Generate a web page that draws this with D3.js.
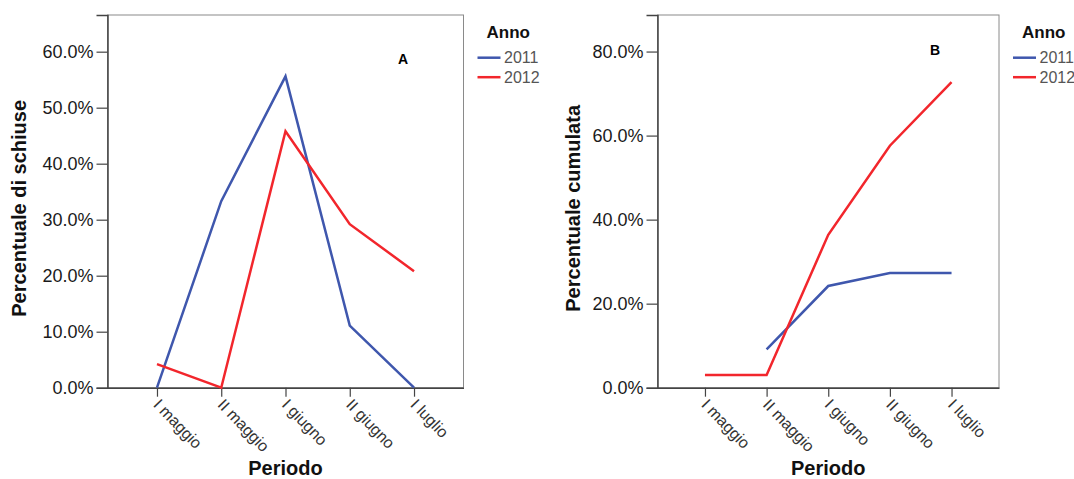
<!DOCTYPE html>
<html>
<head>
<meta charset="utf-8">
<script src="https://cdn.jsdelivr.net/npm/d3@7"></script>
<style>
  body { margin: 0; background: #fff; }
  text { font-family: Arial, "Liberation Sans", sans-serif; }
</style>
</head>
<body>
<div id="chart"></div>
<script>
const periods = ["I maggio", "II maggio", "I giugno", "II giugno", "I luglio"];
const years = ["2011", "2012"];
const colors = ["#3f57ad", "#f2262c"];

// panel A: percentuale di schiuse
const schiuse2011 = [0, 33.3, 55.6, 11.1, 0];
const schiuse2012 = [4.2, 0, 45.8, 29.2, 20.8];
const ticksA = [0, 10, 20, 30, 40, 50, 60];

// panel B: percentuale cumulata (2011 has no value in I maggio)
const cumul2011 = [null, 9.1, 24.2, 27.3, 27.3];
const cumul2012 = [3.0, 3.0, 36.4, 57.6, 72.7];
const ticksB = [0, 20, 40, 60, 80];

let width = 1074, height = 479;
let svg = d3.select("#chart").append("svg")
  .attr("width", width).attr("height", height);

const panels = [
  { x0: 107.5, x1: 463.5, yMax: 66.55, ticks: ticksA, series: [schiuse2011, schiuse2012],
    ytitle: "Percentuale di schiuse", titleX: 19, letter: "A", lx: 403, ly: 59 },
  { x0: 657.5, x1: 999, yMax: 88.7, ticks: ticksB, series: [cumul2011, cumul2012],
    ytitle: "Percentuale cumulata", titleX: 573, letter: "B", lx: 935, ly: 50 }
];
const plotTop = 15, plotBottom = 387.7;

panels.forEach(p => {
  let g = svg.append("g");
  let x = d3.scalePoint().domain(periods).range([p.x0, p.x1]).padding(0.77);
  let y = d3.scaleLinear().domain([0, p.yMax]).range([plotBottom, plotTop]);

  // frame
  g.append("rect")
    .attr("x", p.x0).attr("y", plotTop)
    .attr("width", p.x1 - p.x0).attr("height", plotBottom - plotTop)
    .attr("fill", "none").attr("stroke", "#8a8a8a").attr("stroke-width", 1);

  // y axis
  let yAxis = g.append("g").attr("transform", `translate(${p.x0},0)`)
    .call(d3.axisLeft(y).tickValues(p.ticks).tickSize(11).tickPadding(3)
      .tickFormat(d => d.toFixed(1) + "%"));
  yAxis.select(".domain").attr("stroke", "#444").attr("stroke-width", 1.5);
  yAxis.selectAll(".tick line").attr("stroke", "#444").attr("stroke-width", 1.2);
  yAxis.selectAll(".tick text").attr("font-size", 18).attr("fill", "#1a1a1a")
    .attr("font-family", "Arial, 'Liberation Sans', sans-serif");

  // x axis
  let xAxis = g.append("g").attr("transform", `translate(0,${plotBottom})`)
    .call(d3.axisBottom(x).tickSize(9).tickSizeOuter(0));
  xAxis.select(".domain").attr("stroke", "#444").attr("stroke-width", 1.5);
  xAxis.selectAll(".tick line").attr("stroke", "#444").attr("stroke-width", 1.2);
  xAxis.selectAll(".tick text")
    .attr("font-size", 16).attr("fill", "#333")
    .attr("font-family", "Arial, 'Liberation Sans', sans-serif")
    .attr("text-anchor", "start")
    .attr("x", 0).attr("y", 0).attr("dy", "0.35em")
    .attr("transform", "translate(-1,14) rotate(46)");

  // lines
  p.series.forEach((vals, i) => {
    let line = d3.line()
      .defined(d => d != null)
      .x((d, j) => x(periods[j]))
      .y(d => y(d));
    g.append("path")
      .datum(vals)
      .attr("fill", "none")
      .attr("stroke", colors[i])
      .attr("stroke-width", 2.5)
      .attr("d", line);
  });

  // panel letter
  g.append("text").attr("x", p.lx).attr("y", p.ly).attr("dy", "0.35em")
    .attr("text-anchor", "middle").attr("font-size", 14).attr("font-weight", "bold")
    .text(p.letter);

  // axis titles
  g.append("text")
    .attr("transform", `translate(${p.titleX},${(plotTop + plotBottom) / 2 + 7}) rotate(-90)`)
    .attr("text-anchor", "middle").attr("dy", "0.35em")
    .attr("font-size", 20).attr("font-weight", "bold").attr("fill", "#111")
    .text(p.ytitle);
  g.append("text")
    .attr("x", x(periods[2])).attr("y", 474.5)
    .attr("text-anchor", "middle")
    .attr("font-size", 20).attr("font-weight", "bold").attr("fill", "#111")
    .text("Periodo");

  // legend
  let lg = g.append("g").attr("transform", `translate(${p.x1 + 14},0)`);
  lg.append("text").attr("x", 9).attr("y", 38)
    .attr("font-size", 17).attr("font-weight", "bold").attr("fill", "#111")
    .text("Anno");
  years.forEach((yr, i) => {
    lg.append("line")
      .attr("x1", 0).attr("x2", 23)
      .attr("y1", 57.7 + i * 19.5).attr("y2", 57.7 + i * 19.5)
      .attr("stroke", colors[i]).attr("stroke-width", 2.5);
    lg.append("text").attr("x", 26.5).attr("y", 57.7 + i * 19.5).attr("dy", "0.35em")
      .attr("font-size", 16).attr("fill", "#555")
      .text(yr);
  });
});
</script>
</body>
</html>
